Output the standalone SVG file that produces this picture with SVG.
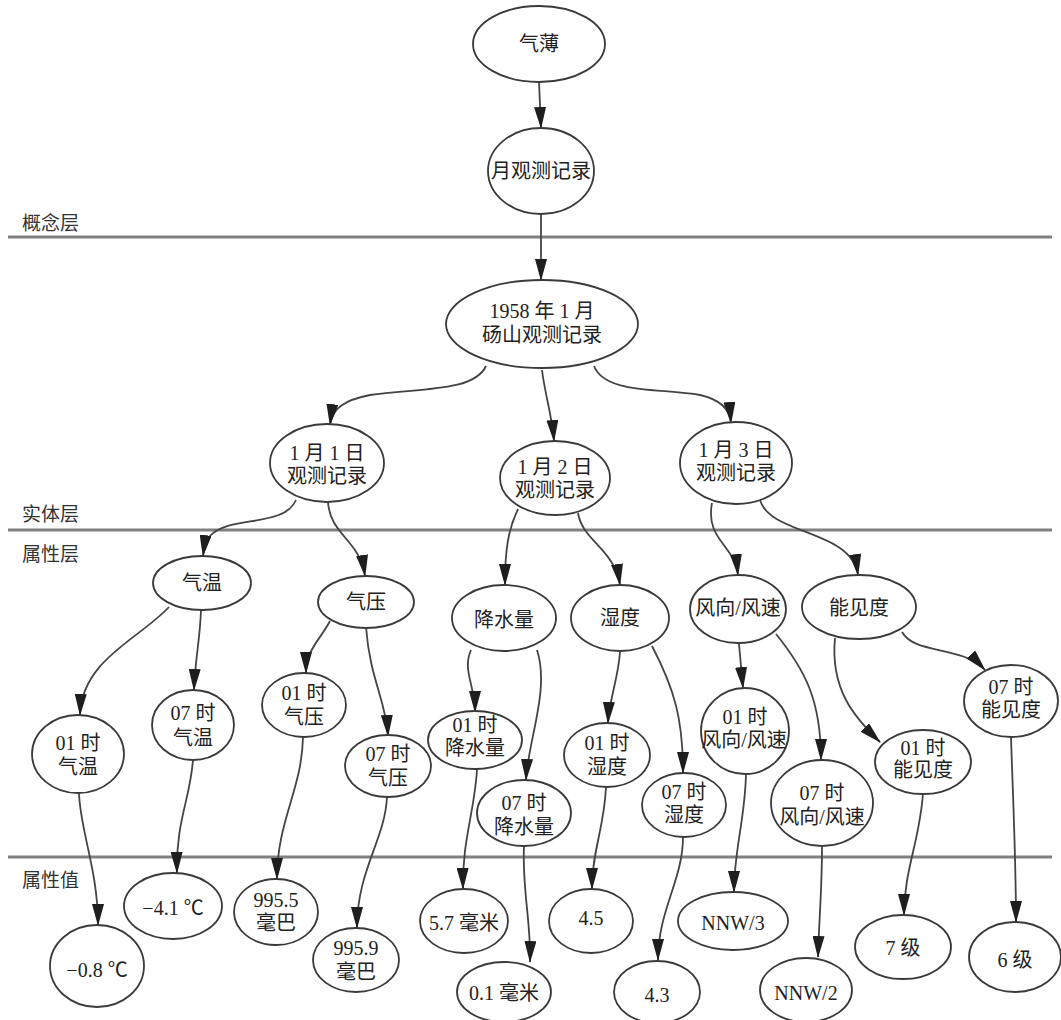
<svg xmlns="http://www.w3.org/2000/svg" width="1061" height="1020" viewBox="0 0 1061 1020">
  <defs>
    <marker id="ah" markerUnits="userSpaceOnUse" viewBox="0 0 22 12" markerWidth="22" markerHeight="12" refX="21" refY="6" orient="auto">
      <path d="M0,0 L22,6 L0,12 z" fill="#1e1e1e"/>
    </marker>
    <style>
      .node ellipse { fill: #fff; stroke: #3a3a3a; stroke-width: 1.8; }
      .node text { font-family: "Liberation Serif", "Noto Sans CJK SC", serif; font-size: 20px; fill: #222; text-anchor: middle; dominant-baseline: central; }
      .edges path { fill: none; stroke: #444; stroke-width: 1.8; marker-end: url(#ah); }
      .layer line { stroke: #808080; stroke-width: 3; }
      .layer text { font-family: "Noto Sans CJK SC", "Liberation Sans", sans-serif; font-size: 19px; fill: #333; dominant-baseline: central; }
    </style>
  </defs>
  <rect width="1061" height="1020" fill="#fff"/>

  <!-- layer separators and labels -->
  <g class="layer" id="layers">
    <line x1="8" y1="237" x2="1052" y2="237"/>
    <line x1="8" y1="530" x2="1052" y2="530"/>
    <line x1="8" y1="857" x2="1052" y2="857"/>
    <text x="22" y="221">概念层</text>
    <text x="22" y="512">实体层</text>
    <text x="22" y="552">属性层</text>
    <text x="22" y="878">属性值</text>
  </g>

  <!-- connectors -->
  <g class="edges" id="edges">
    <path d="M539,82 L541,128"/>
    <path d="M541,214 L541,280"/>
    <path d="M486,366 C474,392 420,388 370,395 C345,400 332,408 330,425"/>
    <path d="M542,370 C545,395 552,415 554,441"/>
    <path d="M594,366 C605,394 660,388 700,395 C722,400 730,410 731,423"/>
    <path d="M296,500 C284,528 228,515 210,536 C206,542 204,548 203,556"/>
    <path d="M328,502 C330,535 360,540 365,576"/>
    <path d="M518,509 C508,530 505,550 505,585"/>
    <path d="M578,513 C582,540 615,550 620,585"/>
    <path d="M712,503 C705,540 735,545 738,575"/>
    <path d="M760,500 C770,535 852,530 858,575"/>
    <path d="M169,607 C138,640 82,660 80,715"/>
    <path d="M201,610 C200,640 195,660 194,690"/>
    <path d="M330,621 C320,640 306,650 306,673"/>
    <path d="M366,627 C370,680 386,700 388,736"/>
    <path d="M471,650 C462,670 475,685 475,712"/>
    <path d="M537,650 C550,690 528,740 526,780"/>
    <path d="M620,652 C618,680 609,700 608,723"/>
    <path d="M652,646 C675,690 683,720 683,773"/>
    <path d="M739,644 L743,688"/>
    <path d="M776,634 C805,670 821,700 821,760"/>
    <path d="M835,638 C830,690 855,718 880,742"/>
    <path d="M902,632 C915,655 962,645 985,670"/>
    <path d="M79,793 C80,830 98,870 98,925"/>
    <path d="M193,760 C190,800 176,820 177,873"/>
    <path d="M303,737 C302,790 277,820 277,879"/>
    <path d="M387,797 C385,840 357,870 357,928"/>
    <path d="M477,769 C475,810 462,840 463,889"/>
    <path d="M524,846 C522,890 531,920 530,962"/>
    <path d="M606,787 C604,830 592,850 592,889"/>
    <path d="M683,837 C683,880 658,910 658,960"/>
    <path d="M746,774 C745,820 734,850 734,892"/>
    <path d="M822,847 C822,890 819,920 818,957"/>
    <path d="M923,793 C920,840 904,870 904,915"/>
    <path d="M1011,737 C1013,800 1016,860 1016,922"/>
  </g>

  <!-- concept layer -->
  <g class="node" id="n-qibo"><ellipse cx="539" cy="44" rx="66" ry="38"/><text x="539" y="44">气薄</text></g>
  <g class="node" id="n-month"><ellipse cx="541" cy="171" rx="53" ry="43"/><text x="541" y="171">月观测记录</text></g>

  <!-- entity layer -->
  <g class="node" id="n-1958"><ellipse cx="542" cy="324" rx="96" ry="44"/><text x="542" y="311">1958 年 1 月</text><text x="542" y="335">砀山观测记录</text></g>
  <g class="node" id="n-d1"><ellipse cx="327" cy="463" rx="57" ry="39"/><text x="327" y="453">1 月 1 日</text><text x="327" y="476">观测记录</text></g>
  <g class="node" id="n-d2"><ellipse cx="555" cy="478" rx="55" ry="37"/><text x="555" y="467">1 月 2 日</text><text x="555" y="490">观测记录</text></g>
  <g class="node" id="n-d3"><ellipse cx="736" cy="463" rx="56" ry="41"/><text x="736" y="450">1 月 3 日</text><text x="736" y="473">观测记录</text></g>

  <!-- attribute layer -->
  <g class="node" id="n-temp"><ellipse cx="202" cy="583" rx="49" ry="27"/><text x="202" y="583">气温</text></g>
  <g class="node" id="n-pres"><ellipse cx="366" cy="602" rx="48" ry="26"/><text x="366" y="602">气压</text></g>
  <g class="node" id="n-prec"><ellipse cx="504" cy="618" rx="52" ry="33"/><text x="504" y="620">降水量</text></g>
  <g class="node" id="n-hum"><ellipse cx="620" cy="618" rx="49" ry="33"/><text x="620" y="618">湿度</text></g>
  <g class="node" id="n-wind"><ellipse cx="738" cy="609" rx="48" ry="34"/><text x="738" y="608">风向/风速</text></g>
  <g class="node" id="n-vis"><ellipse cx="859" cy="607" rx="57" ry="32"/><text x="859" y="608">能见度</text></g>

  <g class="node" id="n-temp01"><ellipse cx="78" cy="754" rx="46" ry="39"/><text x="78" y="743">01 时</text><text x="78" y="767">气温</text></g>
  <g class="node" id="n-temp07"><ellipse cx="193" cy="725" rx="41" ry="35"/><text x="193" y="713">07 时</text><text x="193" y="738">气温</text></g>
  <g class="node" id="n-pres01"><ellipse cx="304" cy="705" rx="42" ry="32"/><text x="304" y="693">01 时</text><text x="304" y="717">气压</text></g>
  <g class="node" id="n-pres07"><ellipse cx="388" cy="766" rx="43" ry="31"/><text x="388" y="754">07 时</text><text x="388" y="778">气压</text></g>
  <g class="node" id="n-prec01"><ellipse cx="475" cy="740" rx="47" ry="29"/><text x="475" y="725">01 时</text><text x="475" y="748">降水量</text></g>
  <g class="node" id="n-prec07"><ellipse cx="524" cy="813" rx="47" ry="33"/><text x="524" y="803">07 时</text><text x="524" y="827">降水量</text></g>
  <g class="node" id="n-hum01"><ellipse cx="607" cy="755" rx="43" ry="32"/><text x="607" y="743">01 时</text><text x="607" y="767">湿度</text></g>
  <g class="node" id="n-hum07"><ellipse cx="684" cy="805" rx="42" ry="32"/><text x="684" y="792">07 时</text><text x="684" y="815">湿度</text></g>
  <g class="node" id="n-wind01"><ellipse cx="745" cy="731" rx="44" ry="43"/><text x="745" y="717">01 时</text><text x="744" y="740">风向/风速</text></g>
  <g class="node" id="n-wind07"><ellipse cx="822" cy="803" rx="51" ry="43"/><text x="822" y="793">07 时</text><text x="822" y="817">风向/风速</text></g>
  <g class="node" id="n-vis01"><ellipse cx="923" cy="762" rx="48" ry="32"/><text x="923" y="748">01 时</text><text x="923" y="770">能见度</text></g>
  <g class="node" id="n-vis07"><ellipse cx="1011" cy="701" rx="47" ry="36"/><text x="1011" y="687">07 时</text><text x="1011" y="710">能见度</text></g>

  <!-- attribute values -->
  <g class="node" id="v-temp01"><ellipse cx="97" cy="966" rx="47" ry="41"/><text x="97" y="970">−0.8 ℃</text></g>
  <g class="node" id="v-temp07"><ellipse cx="173" cy="906" rx="49" ry="33"/><text x="173" y="908">−4.1 ℃</text></g>
  <g class="node" id="v-pres01"><ellipse cx="276" cy="912" rx="42" ry="33"/><text x="276" y="900">995.5</text><text x="276" y="923">毫巴</text></g>
  <g class="node" id="v-pres07"><ellipse cx="356" cy="960" rx="43" ry="32"/><text x="356" y="948">995.9</text><text x="356" y="972">毫巴</text></g>
  <g class="node" id="v-prec01"><ellipse cx="464" cy="921" rx="44" ry="32"/><text x="464" y="923">5.7 毫米</text></g>
  <g class="node" id="v-prec07"><ellipse cx="504" cy="992" rx="47" ry="30"/><text x="504" y="993">0.1 毫米</text></g>
  <g class="node" id="v-hum01"><ellipse cx="591" cy="921" rx="42" ry="32"/><text x="591" y="918">4.5</text></g>
  <g class="node" id="v-hum07"><ellipse cx="657" cy="992" rx="43" ry="31"/><text x="657" y="995">4.3</text></g>
  <g class="node" id="v-wind01"><ellipse cx="733" cy="921" rx="55" ry="29"/><text x="733" y="923">NNW/3</text></g>
  <g class="node" id="v-wind07"><ellipse cx="806" cy="990" rx="46" ry="32"/><text x="806" y="993">NNW/2</text></g>
  <g class="node" id="v-vis01"><ellipse cx="903" cy="947" rx="48" ry="32"/><text x="903" y="948">7 级</text></g>
  <g class="node" id="v-vis07"><ellipse cx="1015" cy="957" rx="46" ry="35"/><text x="1015" y="960">6 级</text></g>
</svg>
